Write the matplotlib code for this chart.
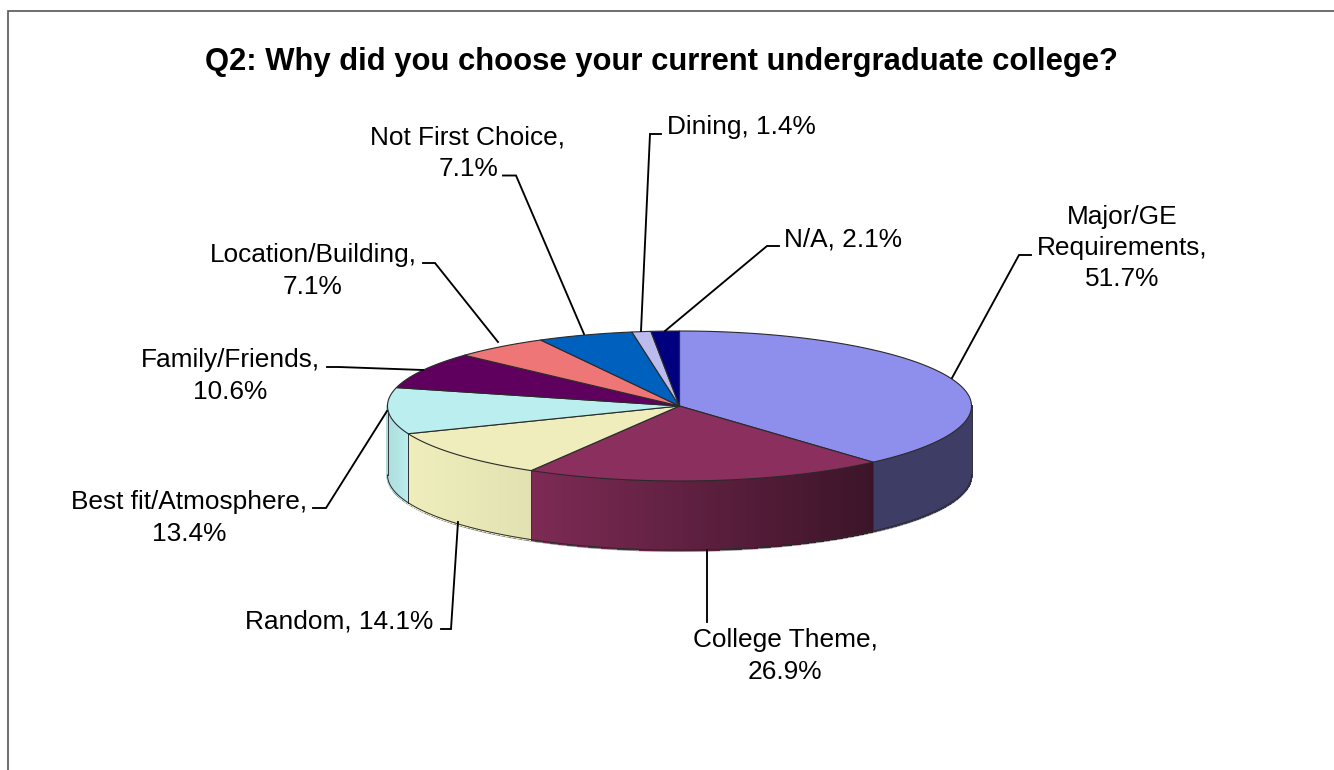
import numpy as np
import matplotlib
matplotlib.use("Agg")
import matplotlib.pyplot as plt

# ---- data ----
categories = ["Major/GE Requirements", "College Theme", "Random", "Best fit/Atmosphere",
              "Family/Friends", "Location/Building", "Not First Choice", "Dining", "N/A"]
values = [51.7, 26.9, 14.1, 13.4, 10.6, 7.1, 7.1, 1.4, 2.1]
title = "Q2: Why did you choose your current undergraduate college?"

# ---- style ----
top_colors = ["#8E8EEC", "#8B2F5E", "#EEEDBB", "#BBEEEE", "#5F005F",
              "#EE7676", "#0060BE", "#BBBBEE", "#00007F"]
side_shades = [(0.43, 0.43), (0.90, 0.43), (1.0, 0.95), (0.93, 1.0),
               (1, 1), (1, 1), (1, 1), (1, 1), (1, 1)]

# ---- layout (pixels) ----
CX, CY, RX, RY, DEPTH = 679.5, 406, 292, 75, 69
label_text = ["Major/GE\nRequirements,\n51.7%", "College Theme,\n26.9%", "Random, 14.1%",
              "Best fit/Atmosphere,\n13.4%", "Family/Friends,\n10.6%", "Location/Building,\n7.1%",
              "Not First Choice,\n7.1%", "Dining, 1.4%", "N/A, 2.1%"]
label_pos = [(1122, 248), (785, 656), (339, 622), (189, 518), (230, 376), (313, 271),
             (468, 153), (741, 127), (843, 239)]
leaders = [[(1031, 255), (1019, 255), (952, 378)],
           [(707, 622), (707, 550)],
           [(441, 629), (451, 629), (458, 522)],
           [(313, 508), (326, 508), (387, 411)],
           [(327, 367), (339, 367), (423, 370)],
           [(423, 263), (435, 263), (498, 342)],
           [(503, 175.5), (516, 175.5), (584, 334)],
           [(661, 134), (650, 134), (641, 331)],
           [(779, 246), (767, 246), (665, 331)]]

plt.rcParams["font.family"] = ["Liberation Sans", "DejaVu Sans"]
fig = plt.figure(figsize=(13.34, 7.70), dpi=100, facecolor="white")
ax = fig.add_axes([0, 0, 1, 1])
ax.set_xlim(0, 1334)
ax.set_ylim(770, 0)
ax.axis("off")


def rim(theta_deg):
    t = np.radians(theta_deg)
    return CX + RX * np.sin(t), CY - RY * np.cos(t)


def shaded(hex_color, factor):
    return tuple(min(1, c * factor) for c in matplotlib.colors.to_rgb(hex_color))


edges = np.concatenate([[0], np.cumsum(values)]) / np.sum(values) * 360
OUT = "#2A2A2A"

# soft shadow under the wall
th = np.linspace(90, 270, 200)
x, y = rim(th)
ax.plot(x, y + DEPTH + 1, color="#8A8A8A", lw=1.4, zorder=1, solid_capstyle="butt")

# visible walls, drawn as fine vertical strips
for i, col in enumerate(top_colors):
    a, b = max(edges[i], 90), min(edges[i + 1], 270)
    if a >= b:
        continue
    ts = np.linspace(a, b, int((b - a) * 3) + 2)
    xs, ys = rim(ts)
    x0, x1 = xs.min(), xs.max()
    s0, s1 = side_shades[i]
    for k in range(len(ts) - 1):
        xm = (xs[k] + xs[k + 1]) / 2
        f = s0 + (s1 - s0) * (xm - x0) / (x1 - x0)
        c = shaded(col, f)
        ax.fill([xs[k], xs[k + 1], xs[k + 1], xs[k]],
                [ys[k], ys[k + 1], ys[k + 1] + DEPTH, ys[k] + DEPTH],
                facecolor=c, edgecolor=c, lw=1.0, antialiased=False, zorder=2)
    # boundary of wall segments
    for t in (a, b):
        xe, ye = rim(t)
        ax.plot([xe, xe], [ye, ye + DEPTH], color="#33333A", lw=0.7, zorder=3)

x, y = rim(th)
ax.plot(x, y + DEPTH, color=OUT, lw=0.7, zorder=3)

# top faces
for i, col in enumerate(top_colors):
    ts = np.linspace(edges[i], edges[i + 1], max(int(edges[i + 1] - edges[i]) * 2, 4))
    xs, ys = rim(ts)
    ax.fill(np.r_[CX, xs], np.r_[CY, ys], facecolor=col, edgecolor=OUT, lw=0.8,
            joinstyle="round", zorder=4)

# leader lines
for pts in leaders:
    p = np.array(pts)
    ax.plot(p[:, 0], p[:, 1], color="black", lw=1.35, zorder=5, solid_joinstyle="miter")

# labels
for txt, (lx, ly) in zip(label_text, label_pos):
    ax.text(lx, ly, txt, ha="center", va="center", multialignment="center", fontsize=18.9,
            linespacing=1.38, color="black", zorder=6)

ax.text(661, 62, title, ha="center", va="center", fontsize=22.3, fontweight="bold", color="black")

# chart frame: top and left edges show in the crop
ax.plot([1334, 7.5, 7.5], [10.5, 10.5, 770], color="#555555", lw=1.2, zorder=7,
        solid_joinstyle="miter")

fig.savefig("out.png", dpi=100, facecolor="white")
